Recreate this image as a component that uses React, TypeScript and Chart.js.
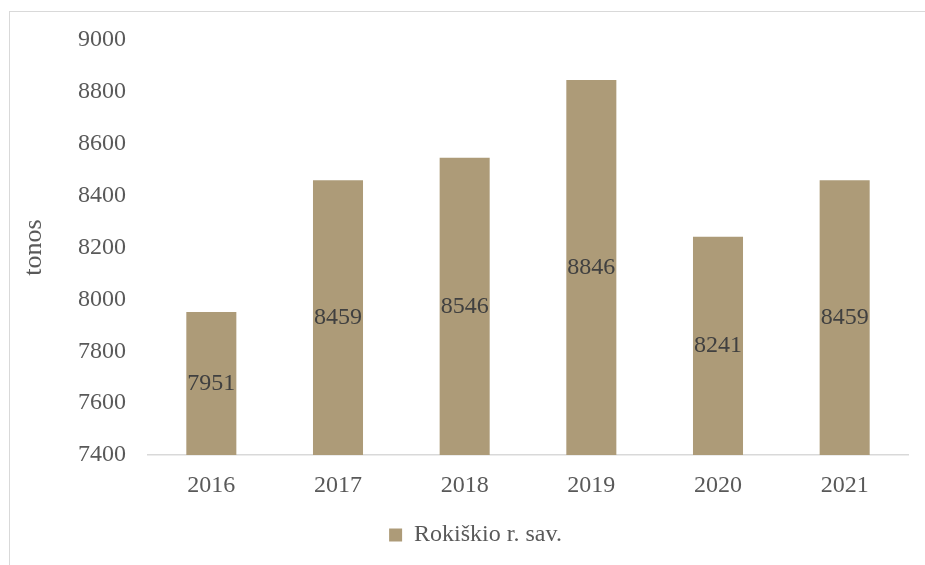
import React, { useEffect, useRef } from "react";
import { Chart, registerables } from "chart.js";

Chart.register(...registerables);

const years = ["2016", "2017", "2018", "2019", "2020", "2021"];
const tonnes = [7951, 8459, 8546, 8846, 8241, 8459];
const seriesLabel = "Rokiškio r. sav.";
const yAxisTitle = "tonos";
const yMin = 7400;
const yMax = 9000;
const yStep = 200;

const FONT = "'Liberation Serif', 'Times New Roman', serif";
const BAR = "#ad9b78";

const valueLabels = {
  id: "valueLabels",
  afterDraw(chart: any) {
    const ctx = chart.ctx;
    const meta = chart.getDatasetMeta(0);
    const yScale = chart.scales.y;
    ctx.save();
    ctx.font = "24px 'Liberation Serif', serif";
    ctx.fillStyle = "#404040";
    ctx.textAlign = "center";
    ctx.textBaseline = "middle";
    meta.data.forEach((bar: any, i: number) => {
      const top = yScale.getPixelForValue(tonnes[i]);
      const base = yScale.getPixelForValue(yMin);
      ctx.fillText(String(tonnes[i]), bar.x, (top + base) / 2);
    });
    ctx.restore();
  },
};

export default function App() {
  const ref = useRef<HTMLCanvasElement>(null);
  useEffect(() => {
    if (!ref.current) return;
    const chart = new Chart(ref.current, {
      type: "bar",
      data: {
        labels: years,
        datasets: [
          {
            label: seriesLabel,
            data: tonnes,
            backgroundColor: BAR,
            borderWidth: 0,
            barPercentage: 0.395,
            categoryPercentage: 1,
            yAxisID: "y",
          },
        ],
      },
      options: {
        responsive: false,
        animation: false,
        layout: { padding: { top: 28, left: 0, right: 0, bottom: 8 } },
        plugins: {
          tooltip: { enabled: false },
          legend: {
            position: "bottom",
            labels: {
              boxWidth: 13,
              boxHeight: 13,
              padding: 10,
              color: "#595959",
              font: { family: FONT, size: 24 },
            },
          },
        },
        scales: {
          x: {
            grid: { display: false, drawTicks: false },
            border: { display: true, color: "#d9d9d9", width: 1.5 },
            ticks: {
              color: "#595959",
              padding: 16,
              font: { family: FONT, size: 24 },
            },
            afterFit: (s: any) => {
              s.height = 58;
            },
          },
          y: {
            min: yMin,
            max: yMax,
            grid: { display: false, drawTicks: false },
            border: { display: false },
            ticks: {
              stepSize: yStep,
              color: "#595959",
              padding: 22,
              font: { family: FONT, size: 24 },
              callback: (v: any) => String(v),
            },
            title: {
              display: true,
              text: yAxisTitle,
              color: "#595959",
              padding: { top: 9, bottom: 0 },
              font: { family: FONT, size: 26 },
            },
            afterFit: (s: any) => {
              s.width = 138;
              s.paddingTop = 0;
              s.paddingBottom = 0;
            },
          },
          yR: {
            type: "linear",
            position: "right",
            display: true,
            grid: { display: false, drawTicks: false },
            border: { display: false },
            ticks: { display: false },
            afterFit: (s: any) => {
              s.width = 33;
              s.paddingTop = 0;
              s.paddingBottom = 0;
            },
          },
        },
      },
      plugins: [valueLabels],
    } as any);
    return () => chart.destroy();
  }, []);

  return (
    <div
      style={{
        position: "fixed",
        left: 0,
        top: 0,
        width: 925,
        height: 565,
        overflow: "hidden",
        background: "#ffffff",
      }}
    >
      <div
        style={{
          position: "absolute",
          left: 9,
          top: 11,
          width: 1000,
          height: 600,
          border: "1px solid #d9d9d9",
          boxSizing: "border-box",
        }}
      >
        <canvas
          ref={ref}
          width={931}
          height={553}
          style={{ position: "absolute", left: 0, top: 0, width: 931, height: 553 }}
        />
      </div>
    </div>
  );
}
